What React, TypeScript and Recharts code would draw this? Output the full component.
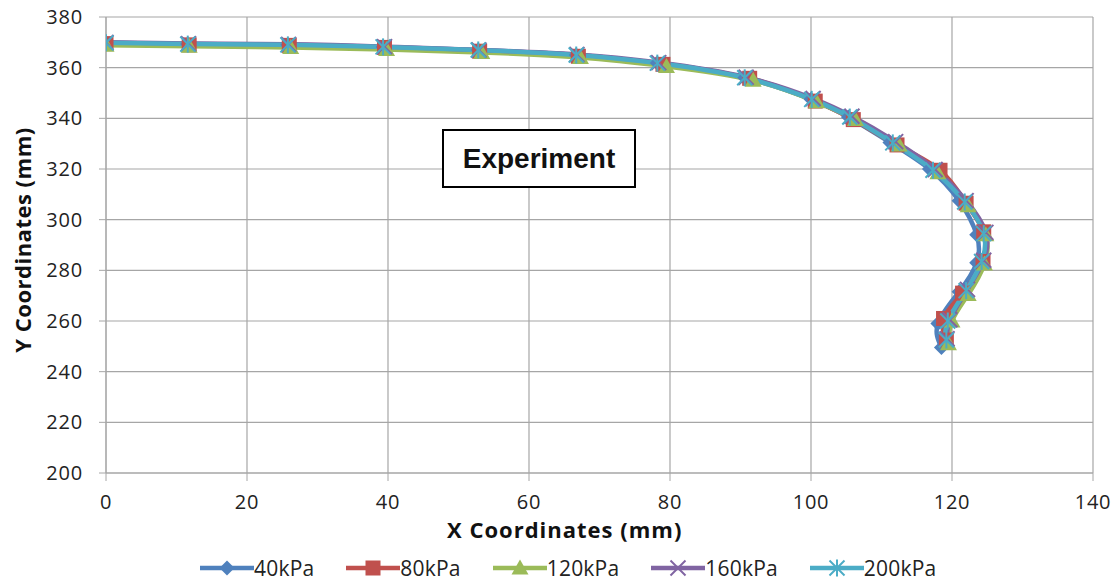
import React from "react";
import { LineChart, Line, XAxis, YAxis, CartesianGrid } from "recharts";

const xTicks = [0, 20, 40, 60, 80, 100, 120, 140];
const yTicks = [200, 220, 240, 260, 280, 300, 320, 340, 360, 380];

// measured points along the bent profile, one set per pressure
const x40 = [0, 11.6, 25.8, 39.3, 52.8, 66.7, 78.2, 90.6, 100, 105.3, 111.2, 116.8, 121, 123.5, 123.5, 121, 118, 118.5];
const y40 = [369.8, 369.3, 369, 368.2, 367, 365, 361.8, 356, 347.5, 340.5, 330.5, 320, 307.5, 294, 283, 271.5, 259, 249.5];

const x80 = [0, 11.8, 26, 39.5, 53, 67, 79, 91.3, 100.6, 106, 112.2, 118.3, 122, 124.5, 124.4, 121.5, 118.8, 119.2];
const y80 = [369.5, 369, 368.8, 368, 366.5, 364.5, 361.3, 355.8, 346.8, 339.5, 329.5, 319.5, 306.5, 295.2, 283.5, 271, 261, 252.5];

const x120 = [0, 11.8, 26.2, 39.8, 53.3, 67.3, 79.5, 91.8, 100.8, 106.3, 112.5, 118, 122.3, 124.8, 124.6, 122.3, 120, 119.5];
const y120 = [368.8, 368.5, 368, 367.2, 366, 364, 360.5, 355, 346.5, 339.5, 329.5, 318.5, 305.5, 294, 282.5, 270.5, 260, 251];

const x160 = [0, 11.7, 25.9, 39.5, 52.9, 66.8, 78.4, 90.8, 100.3, 105.8, 112, 117.6, 122, 124.8, 124.5, 122.2, 119.7, 119.3];
const y160 = [370, 369.5, 369.2, 368.3, 367, 365.2, 362, 356.2, 347.8, 340.8, 330.8, 319.8, 307.5, 295, 284, 272.5, 260.5, 253];

const x200 = [0, 11.6, 25.8, 39.3, 52.8, 66.7, 78.2, 90.6, 100.1, 105.5, 111.6, 117.3, 121.8, 124.5, 124.2, 122, 119.4, 119.2];
const y200 = [369.8, 369.3, 369, 368.2, 367, 365, 361.8, 356, 347.5, 340.5, 330.3, 319.5, 307, 294.5, 283.5, 272, 260, 252.5];

const seriesNames = ["40kPa", "80kPa", "120kPa", "160kPa", "200kPa"];

type Shape = "diamond" | "square" | "triangle" | "x" | "star";

const toPoints = (xs: number[], ys: number[]) => xs.map((x, i) => ({ x, y: ys[i] }));

const series = [
  { name: seriesNames[0], data: toPoints(x40, y40), color: "#4F81BD", shape: "diamond" as Shape },
  { name: seriesNames[1], data: toPoints(x80, y80), color: "#C0504D", shape: "square" as Shape },
  { name: seriesNames[2], data: toPoints(x120, y120), color: "#9BBB59", shape: "triangle" as Shape },
  { name: seriesNames[3], data: toPoints(x160, y160), color: "#8064A2", shape: "x" as Shape },
  { name: seriesNames[4], data: toPoints(x200, y200), color: "#4BACC6", shape: "star" as Shape },
];

const Marker = ({ shape, color, cx, cy }: { shape: Shape; color: string; cx: number; cy: number }) => {
  const s = 7.5;
  if (shape === "diamond")
    return <polygon points={`${cx},${cy - s} ${cx + s},${cy} ${cx},${cy + s} ${cx - s},${cy}`} fill={color} />;
  if (shape === "square")
    return <rect x={cx - s} y={cy - s} width={2 * s} height={2 * s} fill={color} />;
  if (shape === "triangle")
    return <polygon points={`${cx},${cy - s - 1} ${cx + s + 1},${cy + s - 1} ${cx - s - 1},${cy + s - 1}`} fill={color} />;
  if (shape === "x")
    return (
      <g stroke={color} strokeWidth={2}>
        <line x1={cx - s} y1={cy - s} x2={cx + s} y2={cy + s} />
        <line x1={cx - s} y1={cy + s} x2={cx + s} y2={cy - s} />
      </g>
    );
  return (
    <g stroke={color} strokeWidth={2}>
      <line x1={cx - s} y1={cy - s} x2={cx + s} y2={cy + s} />
      <line x1={cx - s} y1={cy + s} x2={cx + s} y2={cy - s} />
      <line x1={cx} y1={cy - s - 1} x2={cx} y2={cy + s + 1} />
    </g>
  );
};

const tickFont = { fontFamily: "Open Sans, sans-serif", fontSize: 20, fill: "#222", letterSpacing: 0.8 };
const titleFont: React.CSSProperties = {
  position: "absolute",
  fontFamily: "Open Sans, sans-serif",
  fontWeight: 700,
  fontSize: 22,
  letterSpacing: 1,
  color: "#111",
  whiteSpace: "nowrap",
  lineHeight: "22px",
};

export default function App() {
  return (
    <div style={{ position: "absolute", left: 0, top: 0, width: 1117, height: 585, overflow: "hidden" }}>
      <LineChart width={1117} height={585} margin={{ top: 17, right: 24, left: 0, bottom: 34 }}>
        <CartesianGrid stroke="#a6a6a6" strokeWidth={1.2} />
        <XAxis
          type="number"
          dataKey="x"
          domain={[0, 140]}
          ticks={xTicks}
          height={78}
          stroke="#a6a6a6"
          tickSize={8}
          tickMargin={14}
          tick={tickFont}
          allowDataOverflow
        />
        <YAxis
          type="number"
          dataKey="y"
          domain={[200, 380]}
          ticks={yTicks}
          width={106}
          stroke="#a6a6a6"
          tickSize={7}
          tickMargin={16}
          tick={tickFont}
          allowDataOverflow
        />
        {series.map((s) => (
          <Line
            key={s.name}
            name={s.name}
            data={s.data}
            dataKey="y"
            type="natural"
            stroke={s.color}
            strokeWidth={4.5}
            isAnimationActive={false}
            dot={(p: any) => <Marker key={`${s.name}-${p.index}`} shape={s.shape} color={s.color} cx={p.cx} cy={p.cy} />}
            activeDot={false}
          />
        ))}
      </LineChart>

      <div style={{ ...titleFont, left: 447, top: 518 }}>X Coordinates (mm)</div>
      <div
        style={{
          ...titleFont,
          letterSpacing: 0.5,
          left: 22,
          top: 240,
          transform: "translate(-50%, -50%) rotate(-90deg)",
        }}
      >
        Y Coordinates (mm)
      </div>

      <div
        style={{
          position: "absolute",
          left: 442,
          top: 129,
          width: 190,
          height: 55,
          border: "2px solid #000",
          background: "#fff",
          display: "flex",
          alignItems: "center",
          justifyContent: "center",
          fontFamily: "Liberation Sans, Arial, sans-serif",
          fontWeight: 700,
          fontSize: 28,
          color: "#111",
        }}
      >
        Experiment
      </div>

      <div
        style={{
          position: "absolute",
          left: 200,
          top: 554,
          display: "flex",
          alignItems: "center",
          gap: 32,
          fontFamily: "Open Sans, sans-serif",
          fontSize: 21,
          letterSpacing: 0.2,
          color: "#222",
        }}
      >
        {series.map((s) => (
          <div key={s.name} style={{ display: "flex", alignItems: "center" }}>
            <svg width={54} height={22}>
              <line x1={0} y1={11} x2={54} y2={11} stroke={s.color} strokeWidth={4.5} />
              <Marker shape={s.shape} color={s.color} cx={27} cy={11} />
            </svg>
            <span>{s.name}</span>
          </div>
        ))}
      </div>
    </div>
  );
}
